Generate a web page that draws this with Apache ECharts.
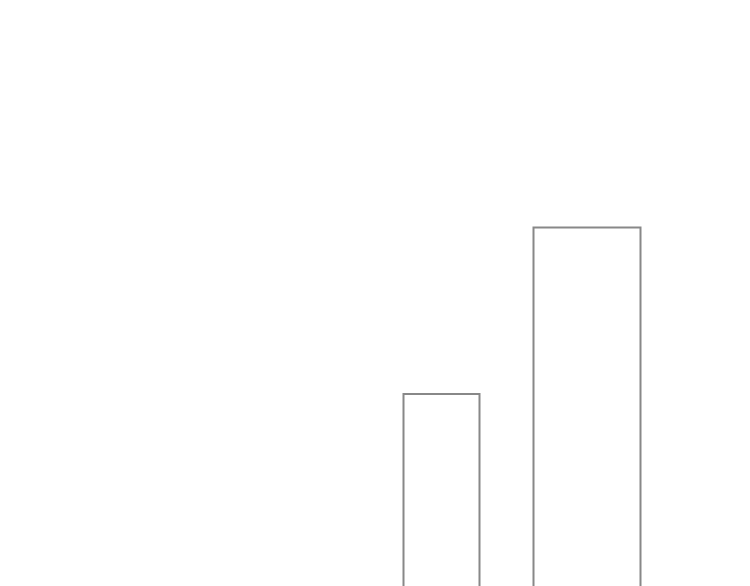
<!DOCTYPE html>
<html>
<head>
<meta charset="utf-8">
<script src="https://cdn.jsdelivr.net/npm/echarts@6/dist/echarts.min.js"></script>
<style>html,body{margin:0;padding:0;background:#fff}#c{width:750px;height:586px}</style>
</head>
<body>
<div id="c"></div>
<script>
// Bar intervals (start, end) on the x scale and their heights
var barStarts = [8.07, 10.67];
var barEnds = [9.59, 12.81];
var barValues = [39.3, 73.4];
// bars continue below the visible frame
var barBase = -3;

var data = barStarts.map(function (s, i) { return [s, barEnds[i], barValues[i]]; });

var chart = echarts.init(document.getElementById('c'));
chart.setOption({
  animation: false,
  grid: { left: 0, right: 0, top: 0, bottom: 0 },
  xAxis: { type: 'value', min: 0, max: 15, show: false },
  yAxis: { type: 'value', min: 0, max: 120, show: false },
  series: [{
    type: 'custom',
    clip: false,
    data: data,
    encode: { x: [0, 1], y: 2 },
    renderItem: function (params, api) {
      var p0 = api.coord([api.value(0), barBase]);
      var p1 = api.coord([api.value(1), api.value(2)]);
      return {
        type: 'rect',
        shape: { x: p0[0], y: p1[1], width: p1[0] - p0[0], height: p0[1] - p1[1] },
        style: { fill: 'none', stroke: '#888888', lineWidth: 2 }
      };
    }
  }]
});
</script>
</body>
</html>
